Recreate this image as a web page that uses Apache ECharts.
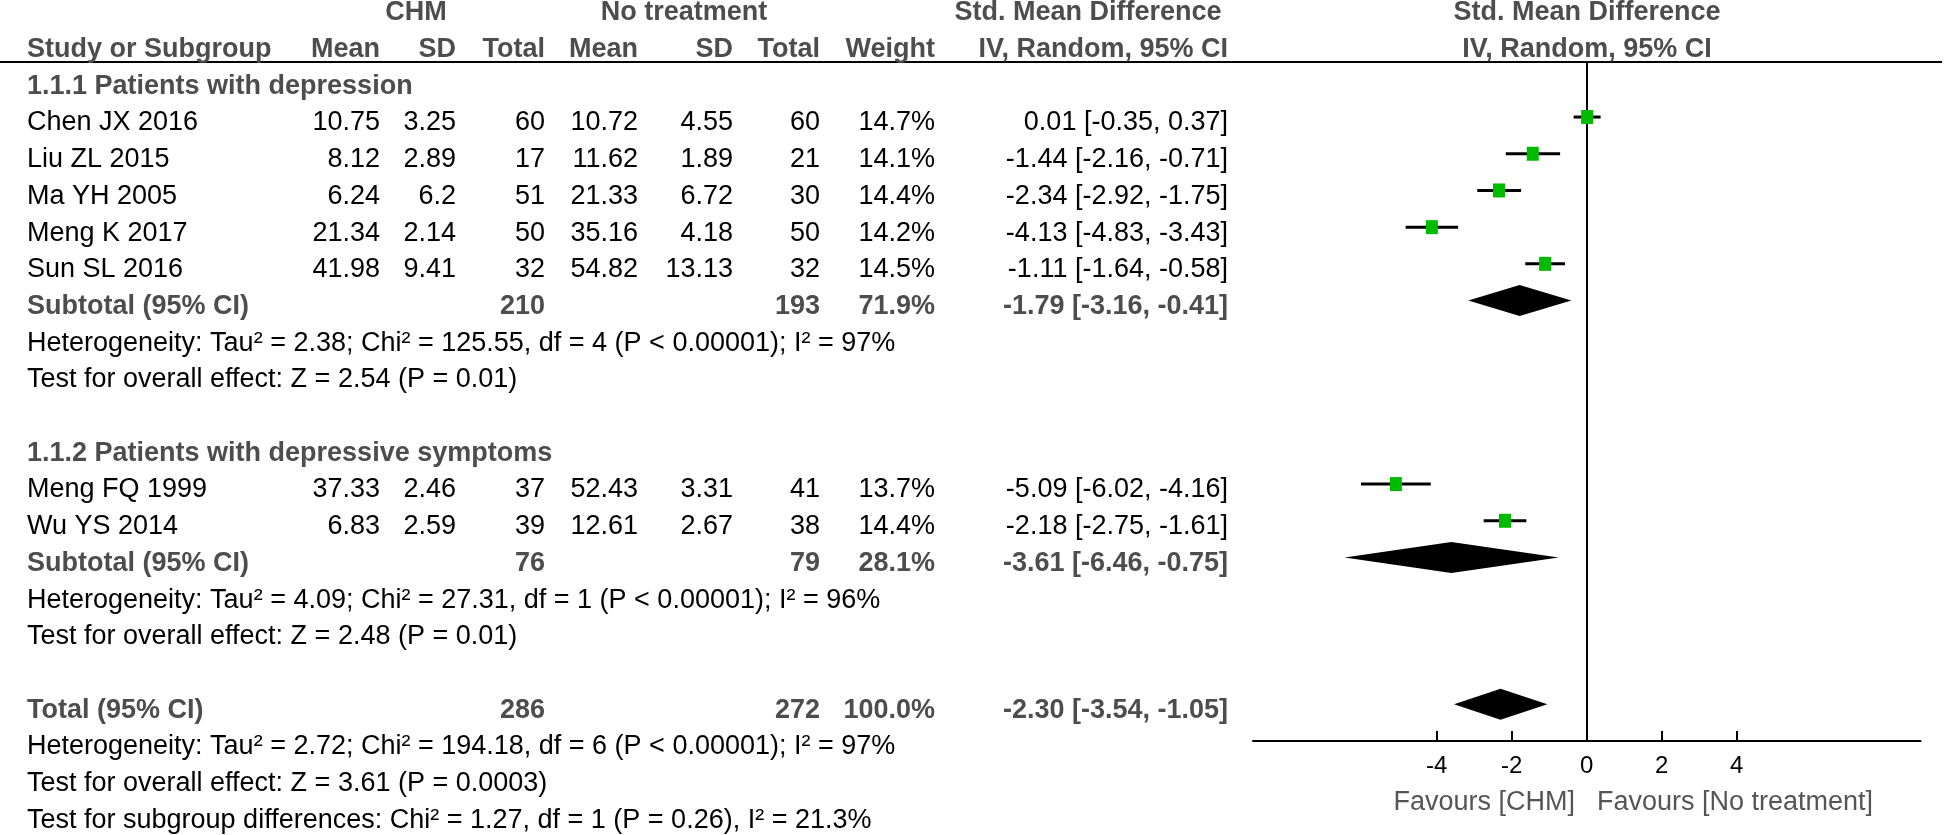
<!DOCTYPE html>
<html><head><meta charset="utf-8">
<script src="https://cdn.jsdelivr.net/npm/echarts@6/dist/echarts.min.js"></script>
<style>html,body{margin:0;padding:0;background:#fff}#c{width:1946px;height:835px}</style>
</head><body><div id="c"></div>
<script>
// ---------------- data ----------------
const groupNames = ['1.1.1 Patients with depression', '1.1.2 Patients with depressive symptoms'];
const studies   = ['Chen JX 2016', 'Liu ZL 2015', 'Ma YH 2005', 'Meng K 2017', 'Sun SL 2016', 'Meng FQ 1999', 'Wu YS 2014'];
const studyGroup = [0, 0, 0, 0, 0, 1, 1];
const chmMean  = [10.75, 8.12, 6.24, 21.34, 41.98, 37.33, 6.83];
const chmSD    = [3.25, 2.89, 6.2, 2.14, 9.41, 2.46, 2.59];
const chmTotal = [60, 17, 51, 50, 32, 37, 39];
const ntMean   = [10.72, 11.62, 21.33, 35.16, 54.82, 52.43, 12.61];
const ntSD     = [4.55, 1.89, 6.72, 4.18, 13.13, 3.31, 2.67];
const ntTotal  = [60, 21, 30, 50, 32, 41, 38];
const weight   = [14.7, 14.1, 14.4, 14.2, 14.5, 13.7, 14.4];
const smd      = [0.01, -1.44, -2.34, -4.13, -1.11, -5.09, -2.18];
const ciLow    = [-0.35, -2.16, -2.92, -4.83, -1.64, -6.02, -2.75];
const ciHigh   = [0.37, -0.71, -1.75, -3.43, -0.58, -4.16, -1.61];

const subTotalCHM = [210, 76];
const subTotalNT  = [193, 79];
const subWeight   = [71.9, 28.1];
const subSmd      = [-1.79, -3.61];
const subLow      = [-3.16, -6.46];
const subHigh     = [-0.41, -0.75];
const subHet      = ['Heterogeneity: Tau² = 2.38; Chi² = 125.55, df = 4 (P < 0.00001); I² = 97%',
                     'Heterogeneity: Tau² = 4.09; Chi² = 27.31, df = 1 (P < 0.00001); I² = 96%'];
const subEffect   = ['Test for overall effect: Z = 2.54 (P = 0.01)',
                     'Test for overall effect: Z = 2.48 (P = 0.01)'];

const totalCHM = 286, totalNT = 272, totalWeight = 100.0;
const totalSmd = -2.30, totalLow = -3.54, totalHigh = -1.05;
const totalNotes = ['Heterogeneity: Tau² = 2.72; Chi² = 194.18, df = 6 (P < 0.00001); I² = 97%',
                    'Test for overall effect: Z = 3.61 (P = 0.0003)',
                    'Test for subgroup differences: Chi² = 1.27, df = 1 (P = 0.26), I² = 21.3%'];

const axisTicks = [-4, -2, 0, 2, 4];
const favourLeft = 'Favours [CHM]', favourRight = 'Favours [No treatment]';

// ---------------- layout ----------------
const FONT = '"Liberation Sans", Arial, sans-serif';
const FS = 27;
const col = { name: 27, chmMean: 380, chmSD: 456, chmTotal: 545, ntMean: 638, ntSD: 733, ntTotal: 820, weight: 935, ci: 1228 };
const BOLD_COLOR = '#4d4d4d';

const f2 = v => v.toFixed(2);
const ciText = (e, l, h) => f2(e) + ' [' + f2(l) + ', ' + f2(h) + ']';

const texts = [];
function T(x, r, text, align, bold) { texts.push({ x, r, text, align: align || 'right', bold: !!bold }); }

// headers
T(416, -3, 'CHM', 'center', true);
T(684, -3, 'No treatment', 'center', true);
T(1088, -3, 'Std. Mean Difference', 'center', true);
T(1587, -3, 'Std. Mean Difference', 'center', true);
T(col.name, -2, 'Study or Subgroup', 'left', true);
T(col.chmMean, -2, 'Mean', 'right', true);
T(col.chmSD, -2, 'SD', 'right', true);
T(col.chmTotal, -2, 'Total', 'right', true);
T(col.ntMean, -2, 'Mean', 'right', true);
T(col.ntSD, -2, 'SD', 'right', true);
T(col.ntTotal, -2, 'Total', 'right', true);
T(col.weight, -2, 'Weight', 'right', true);
T(col.ci, -2, 'IV, Random, 95% CI', 'right', true);
T(1587, -2, 'IV, Random, 95% CI', 'center', true);

const studyRow = [];
const diamondRows = [];
let r = -1;
groupNames.forEach((g, gi) => {
  T(col.name, r, g, 'left', true); r++;
  studies.forEach((s, i) => {
    if (studyGroup[i] !== gi) return;
    studyRow[i] = r;
    T(col.name, r, s, 'left');
    T(col.chmMean, r, String(chmMean[i]));
    T(col.chmSD, r, String(chmSD[i]));
    T(col.chmTotal, r, String(chmTotal[i]));
    T(col.ntMean, r, String(ntMean[i]));
    T(col.ntSD, r, String(ntSD[i]));
    T(col.ntTotal, r, String(ntTotal[i]));
    T(col.weight, r, weight[i].toFixed(1) + '%');
    T(col.ci, r, ciText(smd[i], ciLow[i], ciHigh[i]));
    r++;
  });
  T(col.name, r, 'Subtotal (95% CI)', 'left', true);
  T(col.chmTotal, r, String(subTotalCHM[gi]), 'right', true);
  T(col.ntTotal, r, String(subTotalNT[gi]), 'right', true);
  T(col.weight, r, subWeight[gi].toFixed(1) + '%', 'right', true);
  T(col.ci, r, ciText(subSmd[gi], subLow[gi], subHigh[gi]), 'right', true);
  diamondRows.push([subSmd[gi], subLow[gi], subHigh[gi], r]);
  r++;
  T(col.name, r, subHet[gi], 'left'); r++;
  T(col.name, r, subEffect[gi], 'left'); r++;
  r++;
});
T(col.name, r, 'Total (95% CI)', 'left', true);
T(col.chmTotal, r, String(totalCHM), 'right', true);
T(col.ntTotal, r, String(totalNT), 'right', true);
T(col.weight, r, totalWeight.toFixed(1) + '%', 'right', true);
T(col.ci, r, ciText(totalSmd, totalLow, totalHigh), 'right', true);
diamondRows.push([totalSmd, totalLow, totalHigh, r]);
r++;
totalNotes.forEach(t => { T(col.name, r, t, 'left'); r++; });

// ---------------- chart ----------------
const chart = echarts.init(document.getElementById('c'), null, { renderer: 'canvas' });
const ROW = 36.7;
chart.setOption({
  animation: false,
  backgroundColor: '#fff',
  grid: [
    { left: 1253, top: 62, width: 667.5, height: 679 },
    { left: 0, top: 0, width: 1946, height: 835 }
  ],
  xAxis: [
    { gridIndex: 0, type: 'value', min: -8.9, max: 8.9,
      splitLine: { show: false },
      axisLine: { show: true, onZero: false, lineStyle: { color: '#000', width: 2 } },
      axisTick: { show: true, inside: true, length: 10, customValues: axisTicks, lineStyle: { color: '#000', width: 2 } },
      axisLabel: { show: true, customValues: axisTicks, margin: 13, color: '#000', fontSize: 24, fontFamily: FONT,
                   formatter: v => String(v) } },
    { gridIndex: 1, type: 'value', min: 0, max: 1946, show: false }
  ],
  yAxis: [
    { gridIndex: 0, type: 'value', inverse: true, min: -1.5, max: 17.0,
      splitLine: { show: false }, axisTick: { show: false }, axisLabel: { show: false },
      axisLine: { show: true, onZero: true, lineStyle: { color: '#000', width: 2 } } },
    { gridIndex: 1, type: 'value', inverse: true, min: -123 / ROW, max: (835 - 123) / ROW, show: false }
  ],
  series: [
    { type: 'custom', name: 'table', xAxisIndex: 1, yAxisIndex: 1, silent: true, clip: false,
      data: texts.map(t => [t.x, t.r]),
      renderItem: (params, api) => {
        const t = texts[params.dataIndex];
        const p = api.coord([api.value(0), api.value(1)]);
        return { type: 'text', x: p[0], y: p[1],
          style: { text: t.text, align: t.align, verticalAlign: 'middle',
                   fontFamily: FONT, fontSize: FS, fontWeight: t.bold ? 'bold' : 'normal',
                   fill: t.bold ? BOLD_COLOR : '#000' } };
      } },
    { type: 'custom', name: 'studies', xAxisIndex: 0, yAxisIndex: 0, silent: true,
      data: smd.map((v, i) => [v, ciLow[i], ciHigh[i], studyRow[i]]),
      encode: { x: [0, 1, 2], y: 3 },
      renderItem: (params, api) => {
        const y = api.value(3);
        const lo = api.coord([api.value(1), y]);
        const hi = api.coord([api.value(2), y]);
        const m = api.coord([api.value(0), y]);
        return { type: 'group', children: [
          { type: 'line', shape: { x1: lo[0], y1: lo[1], x2: hi[0], y2: hi[1] }, style: { stroke: '#000', lineWidth: 3 } },
          { type: 'rect', shape: { x: m[0] - 6, y: m[1] - 7, width: 12, height: 14 }, style: { fill: '#00bb00' } }
        ] };
      } },
    { type: 'custom', name: 'diamonds', xAxisIndex: 0, yAxisIndex: 0, silent: true,
      data: diamondRows,
      encode: { x: [0, 1, 2], y: 3 },
      renderItem: (params, api) => {
        const y = api.value(3);
        const lo = api.coord([api.value(1), y]);
        const hi = api.coord([api.value(2), y]);
        const m = api.coord([api.value(0), y]);
        const h = 15.5;
        return { type: 'polygon', shape: { points: [[lo[0], lo[1]], [m[0], m[1] - h], [hi[0], hi[1]], [m[0], m[1] + h]] },
                 style: { fill: '#000' } };
      } }
  ],
  graphic: [
    { type: 'line', silent: true, shape: { x1: 0, y1: 62, x2: 1942, y2: 62 }, style: { stroke: '#000', lineWidth: 2 } },
    { type: 'text', silent: true, x: 1575, y: 803,
      style: { text: favourLeft, align: 'right', verticalAlign: 'middle', fontFamily: FONT, fontSize: FS, fill: '#555' } },
    { type: 'text', silent: true, x: 1597, y: 803,
      style: { text: favourRight, align: 'left', verticalAlign: 'middle', fontFamily: FONT, fontSize: FS, fill: '#555' } }
  ]
});
</script>
</body></html>
